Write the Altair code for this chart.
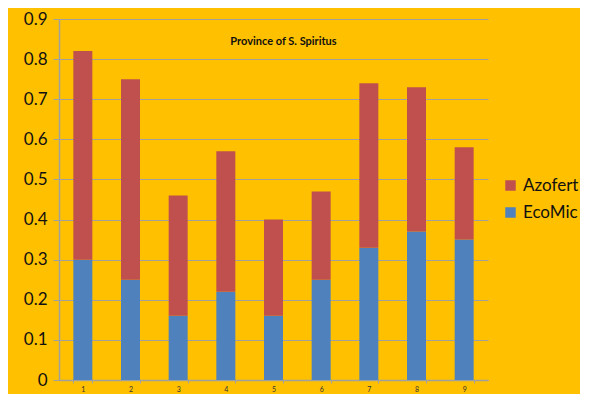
import altair as alt
import pandas as pd

sites = ["1", "2", "3", "4", "5", "6", "7", "8", "9"]
ecomic = [0.30, 0.25, 0.16, 0.22, 0.16, 0.25, 0.33, 0.37, 0.35]
total = [0.82, 0.75, 0.46, 0.57, 0.40, 0.47, 0.74, 0.73, 0.58]
azofert = [round(t - e, 2) for t, e in zip(total, ecomic)]
series = ["Azofert", "EcoMic"]
colors = ["#C0504D", "#4F81BD"]

rows = []
for s, e, a in zip(sites, ecomic, azofert):
    rows.append({"site": s, "series": "EcoMic", "value": e, "ord": 0})
    rows.append({"site": s, "series": "Azofert", "value": a, "ord": 1})
df = pd.DataFrame(rows)

FONT = "Lato"

chart = alt.Chart(df).mark_bar(size=19).encode(
    x=alt.X("site:N", sort=sites, title=None,
            scale=alt.Scale(paddingInner=0.6, paddingOuter=0.3),
            axis=alt.Axis(labelAngle=0, labelFontSize=7, labelColor="#333333",
                          tickBand="extent", tickSize=3, tickColor="#A0A0A0",
                          domainColor="#A0A0A0", domainWidth=1.5, labelPadding=2,
                          labelFont=FONT)),
    y=alt.Y("value:Q", stack="zero", title=None,
            scale=alt.Scale(domain=[0, 0.9], nice=False),
            axis=alt.Axis(values=[0, 0.1, 0.2, 0.3, 0.4, 0.5, 0.6, 0.7, 0.8, 0.9],
                          format=".1~f", labelFontSize=17, labelColor="#111111",
                          labelFont=FONT, tickSize=6, tickColor="#A0A0A0",
                          domainColor="#A0A0A0", domainWidth=1.5,
                          gridColor="#A0A0A0", gridWidth=1.2, labelPadding=6)),
    color=alt.Color("series:N", scale=alt.Scale(domain=series, range=colors),
                    legend=alt.Legend(title=None, orient="none", legendX=443, legendY=158,
                                      symbolType="square", symbolSize=110,
                                      symbolStrokeWidth=0, labelFontSize=17,
                                      labelFont=FONT, labelColor="#111111",
                                      rowPadding=9)),
    order=alt.Order("ord:Q", sort="ascending"),
).properties(
    width=429, height=361,
    title=alt.TitleParams("Province of S. Spiritus", fontSize=11, fontWeight="bold",
                          font=FONT, color="#111111", anchor="middle", orient="top",
                          offset=-37, dx=10),
    autosize=alt.AutoSizeParams(type="none"),
    padding={"left": 51, "top": 11, "right": 92, "bottom": 14},
    background="#FFC000",
).configure_view(stroke=None).configure_axisX(grid=False)

chart.save("out.html", embed_options={"renderer": "svg", "actions": False})
